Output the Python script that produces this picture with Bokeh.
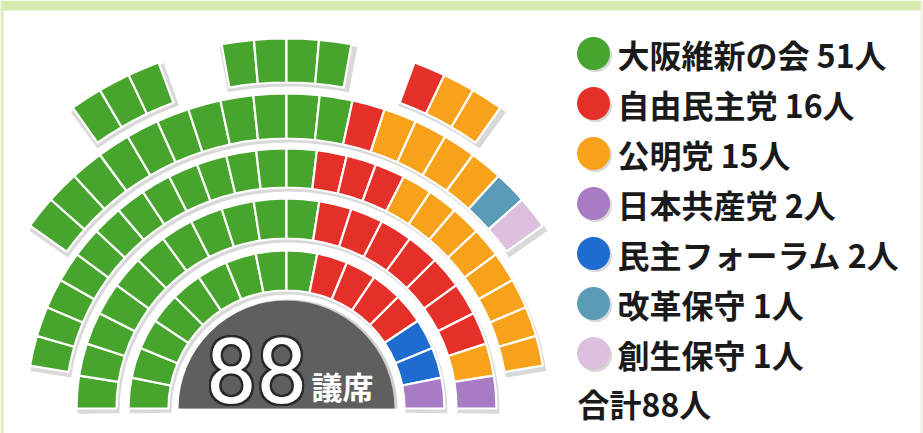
import numpy as np
from bokeh.plotting import figure
from bokeh.models import Range1d
from bokeh.core.properties import value
from bokeh.embed import file_html
from bokeh.resources import INLINE

# ---------------- data ----------------
parties = ["大阪維新の会", "自由民主党", "公明党", "日本共産党", "民主フォーラム", "改革保守", "創生保守"]
counts = [51, 16, 15, 2, 2, 1, 1]
colors = ["#47a52d", "#e5302a", "#f7a21a", "#a87cc5", "#1f6cd0", "#5a9cb7", "#ddc0dd"]
total_seats = 88
seat_label = "議席"

# seat blocks, listed left -> right as (party index, seats)
ring1 = [(0, 9), (1, 4), (4, 2), (3, 1)]
ring2 = [(0, 11), (1, 7), (2, 1), (3, 1)]
ring3 = [(0, 13), (1, 3), (2, 8)]
ring4 = [(0, 11), (1, 1), (2, 4), (5, 1), (6, 1)]
top_left = [(0, 3)]
top_mid = [(0, 4)]
top_right = [(1, 1), (2, 2)]

# ---------------- layout ----------------
W, H = 923, 433
CX, CY = 286, H - 408  # hemicycle centre (data coords, y up)

# (block, inner r, outer r, left angle deg, right angle deg)
blocks = [
    (ring1, 118, 158, 180.0, 0.0),
    (ring2, 170, 210, 180.0, 0.0),
    (ring3, 221, 260, 170.5, 9.5),
    (ring4, 270, 315, 144.5, 35.5),
    (top_left, 326, 369, 125.4, 110.3),
    (top_mid, 326, 370, 100.1, 79.9),
    (top_right, 326, 369, 69.7, 54.6),
]

p = figure(width=W, height=H, x_range=Range1d(0, W), y_range=Range1d(0, H),
           output_backend="svg", toolbar_location=None, min_border=0)
p.axis.visible = False
p.grid.visible = False
p.outline_line_color = None
p.background_fill_color = "white"
p.border_fill_color = "white"

# page frame (light green strip)
p.quad(left=0, right=W, bottom=H - 10, top=H, fill_color="#d6e9ae", line_color=None)
p.quad(left=0, right=3, bottom=0, top=H, fill_color="#dcecbc", line_color=None)
p.quad(left=W - 3, right=W, bottom=0, top=H, fill_color="#eef4e2", line_color=None)

# block shadows
sh = dict(x=[], y=[], ir=[], orr=[], sa=[], ea=[])
for blk, r0, r1, a0, a1 in blocks:
    sh["x"].append(CX + 2)
    sh["y"].append(CY - 3)
    sh["ir"].append(r0 - 1)
    sh["orr"].append(r1 + 1)
    sh["sa"].append(np.radians(a1 - 0.6))
    sh["ea"].append(np.radians(a0 + 0.6))
p.annular_wedge(x="x", y="y", inner_radius="ir", outer_radius="orr",
                start_angle="sa", end_angle="ea", source=sh,
                fill_color="#cfcfcf", fill_alpha=0.8, line_color=None)

# seats
sx, sy, sir, sor, ssa, sea, scol = [], [], [], [], [], [], []
for blk, r0, r1, a0, a1 in blocks:
    n = sum(c for _, c in blk)
    step = (a0 - a1) / n
    i = 0
    for party, c in blk:
        for _ in range(c):
            sx.append(CX)
            sy.append(CY)
            sir.append(r0)
            sor.append(r1)
            ssa.append(np.radians(a0 - (i + 1) * step))
            sea.append(np.radians(a0 - i * step))
            scol.append(colors[party])
            i += 1
seats = dict(x=sx, y=sy, ir=sir, orr=sor, sa=ssa, ea=sea, color=scol)
p.annular_wedge(x="x", y="y", inner_radius="ir", outer_radius="orr",
                start_angle="sa", end_angle="ea", source=seats,
                fill_color="color", line_color="white", line_width=2.2)

# centre disc
p.wedge(x=CX + 2, y=CY, radius=109, start_angle=0, end_angle=np.pi,
        fill_color="#d0d0d0", line_color=None)
p.wedge(x=CX, y=CY, radius=108, start_angle=0, end_angle=np.pi,
        fill_color="#5f5f5f", line_color=None)

num_txt = str(sum(counts))
NUM_Y = H - 370
for dx in (-2, -1, 0, 1, 2):
    for dy in (-2, -1, 0, 1, 2):
        if dx == 0 and dy == 0:
            continue
        p.text(x=[256 + dx], y=[NUM_Y + dy], text=[num_txt], text_align="center",
               text_baseline="middle", text_font=value("Roboto"),
               text_font_size=value("90px"), text_color="#2a2a2a")
p.text(x=[256], y=[NUM_Y], text=[num_txt], text_align="center",
       text_baseline="middle", text_font=value("Roboto"),
       text_font_size=value("90px"), text_color="white")
p.text(x=[311], y=[H - 385], text=[seat_label], text_align="left",
       text_baseline="middle", text_font=value("Noto Sans CJK JP"),
       text_font_size=value("31px"), text_font_style="bold", text_color="white")

# legend
row0, gap = 53, 50
ly = [H - (row0 + i * gap) for i in range(len(parties))]
p.scatter(x=[595] * len(parties), y=[v - 2 for v in ly], size=33, marker="circle",
          fill_color="#d8d8d8", line_color=None)
p.scatter(x=[593] * len(parties), y=ly, size=33, marker="circle",
          fill_color=colors, line_color=None)
labels = [f"{n} {c}人" for n, c in zip(parties, counts)]
p.text(x=[617] * len(parties), y=ly, text=labels, text_align="left",
       text_baseline="middle", text_font=value("Noto Sans CJK JP"),
       text_font_size=value("32px"), text_font_style="bold", text_color="#1a1a1a")
p.text(x=[577], y=[H - (row0 + len(parties) * gap - 1)], text=[f"合計{sum(counts)}人"],
       text_align="left", text_baseline="middle", text_font=value("Noto Sans CJK JP"),
       text_font_size=value("32px"), text_font_style="bold", text_color="#1a1a1a")

open("out.html", "w").write(file_html(p, INLINE))
